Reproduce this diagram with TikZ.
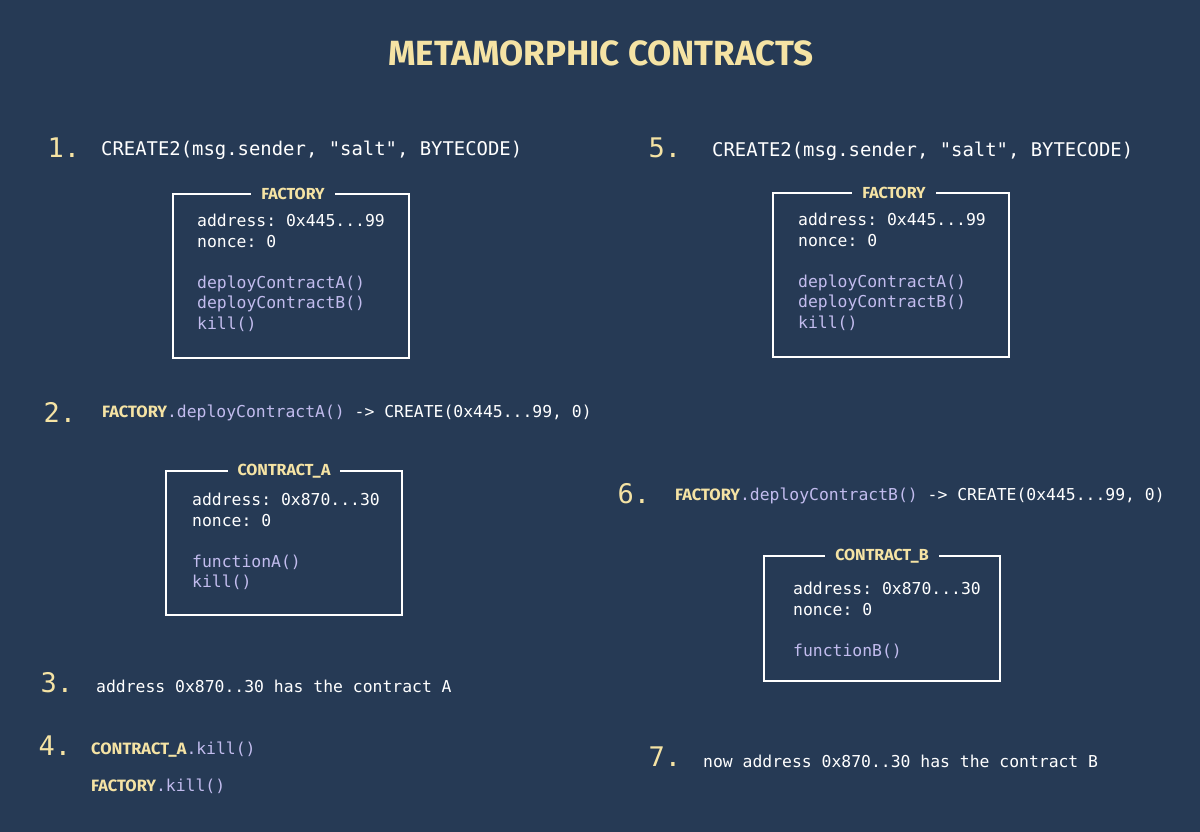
\documentclass[tikz,border=0pt]{standalone}
\usepackage{fontspec}
\setmainfont{Fira Sans}
\setmonofont{DejaVu Sans Mono}
\usetikzlibrary{positioning}
\definecolor{bgnavy}{HTML}{263A55}
\definecolor{ttlyellow}{HTML}{F5E3A4}
\definecolor{fnlilac}{HTML}{C2BCEE}
\tikzset{
  numtxt/.style={anchor=west,text=ttlyellow,font=\ttfamily\fontsize{27}{30}\selectfont},
  steptxt/.style={anchor=west,text=white,font=\ttfamily\fontsize{16.4}{20}\selectfont,inner sep=0pt},
  boxtxt/.style={anchor=north west,text=white,align=left,inner sep=0pt,
    font=\ttfamily\fontsize{16.4}{20.5}\selectfont},
  frame/.style={draw=white,line width=2pt},
  boxlbl/.style={fill=bgnavy,text=ttlyellow,font=\bfseries\fontsize{16}{18}\selectfont,inner xsep=10pt}
}
\newcommand{\fn}[1]{\textcolor{fnlilac}{#1}}
\newcommand{\ylw}[1]{{\normalfont\bfseries\color{ttlyellow}#1}}
\begin{document}
\begin{tikzpicture}[x=1pt,y=-1pt]
  \fill[bgnavy] (0,0) rectangle (1200,832);
  \useasboundingbox (0,0) rectangle (1200,832);
  \node (title) [text=ttlyellow,font=\bfseries\fontsize{35}{40}\selectfont] at (601,53) {METAMORPHIC CONTRACTS};

  % left column
  \node (n1) [numtxt] at (44,148) {1.};
  \node (s1) [steptxt,font=\ttfamily\fontsize{18.9}{22}\selectfont] at (101,150) {CREATE2(msg.sender, "salt", BYTECODE)};
  \draw[frame] (173,194) rectangle (409,358);
  \node (fac1) [boxlbl] at (293,194) {FACTORY};
  \node (fac1t) [boxtxt] at (197,214) {address: 0x445...99\\nonce: 0\\[20.5pt]\fn{deployContractA()}\\\fn{deployContractB()}\\\fn{kill()}};

  \node (n2) [numtxt] at (40,412) {2.};
  \node (s2) [steptxt] at (102,413) {\ylw{FACTORY}\fn{.deployContractA()} -> CREATE(0x445...99, 0)};
  \draw[frame] (166,471) rectangle (402,615);
  \node (ca) [boxlbl] at (284,471) {CONTRACT\_A};
  \node (cat) [boxtxt] at (192,493) {address: 0x870...30\\nonce: 0\\[20.5pt]\fn{functionA()}\\\fn{kill()}};

  \node (n3) [numtxt] at (37,683) {3.};
  \node (s3) [steptxt] at (96,686) {address 0x870..30 has the contract A};

  \node (n4) [numtxt] at (35,746) {4.};
  \node (s4a) [steptxt] at (91,750) {\ylw{CONTRACT\_A}\fn{.kill()}};
  \node (s4b) [steptxt] at (91,786) {\ylw{FACTORY}\fn{.kill()}};

  % right column
  \node (n5) [numtxt] at (645,148) {5.};
  \node (s5) [steptxt,font=\ttfamily\fontsize{18.9}{22}\selectfont] at (712,151) {CREATE2(msg.sender, "salt", BYTECODE)};
  \draw[frame] (773,193) rectangle (1009,357);
  \node (fac5) [boxlbl] at (894,193) {FACTORY};
  \node (fac5t) [boxtxt] at (798,213) {address: 0x445...99\\nonce: 0\\[20.5pt]\fn{deployContractA()}\\\fn{deployContractB()}\\\fn{kill()}};

  \node (n6) [numtxt] at (614,494) {6.};
  \node (s6) [steptxt] at (675,496) {\ylw{FACTORY}\fn{.deployContractB()} -> CREATE(0x445...99, 0)};
  \draw[frame] (764,556) rectangle (1000,681);
  \node (cb) [boxlbl] at (882,556) {CONTRACT\_B};
  \node (cbt) [boxtxt] at (793,582) {address: 0x870...30\\nonce: 0\\[20.5pt]\fn{functionB()}};

  \node (n7) [numtxt] at (645,757) {7.};
  \node (s7) [steptxt] at (703,761) {now address 0x870..30 has the contract B};
\end{tikzpicture}
\end{document}
